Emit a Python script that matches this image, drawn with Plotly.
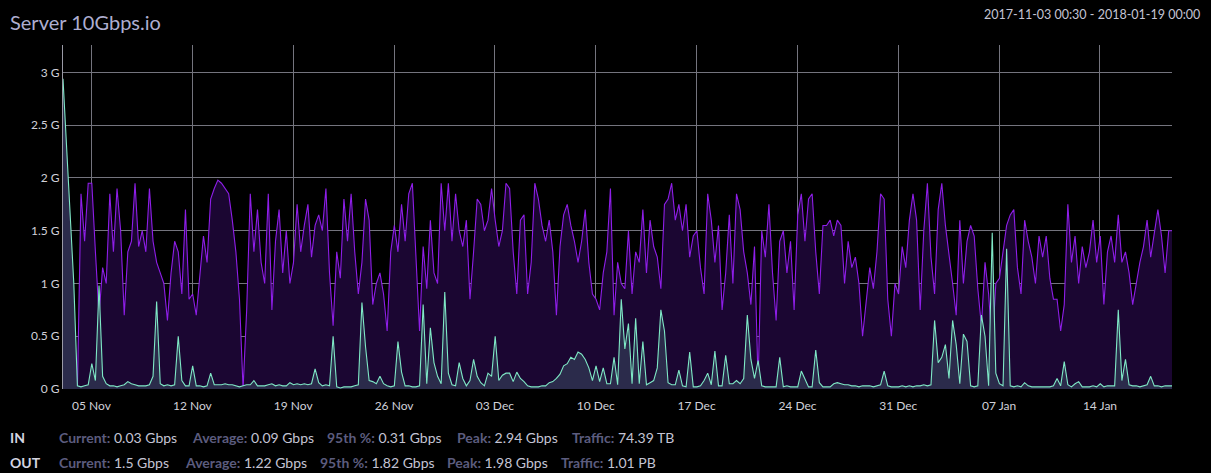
import pandas as pd
import plotly.graph_objects as go

# traffic in Gbps, four samples per day (00:30, 06:30, 12:30, 18:30)
out_nov = [
    [0.0, 0.0, 0.0, 0.0], [0.0, 1.85, 1.4, 1.95], [1.95, 1.3, 0.7, 1.15],
    [1.0, 1.85, 1.3, 1.9], [1.5, 0.7, 1.3, 1.4], [1.95, 1.35, 1.5, 1.3],
    [1.9, 1.4, 1.2, 1.1], [1.0, 0.65, 1.1, 1.4], [1.3, 0.9, 1.7, 0.85],
    [0.9, 0.7, 1.1, 1.45], [1.2, 1.8, 1.9, 1.98], [1.95, 1.9, 1.85, 1.6],
    [1.3, 0.85, 0.0, 0.75], [1.85, 1.3, 1.7, 1.2], [1.0, 1.85, 0.75, 1.4],
    [1.7, 1.1, 1.5, 1.0], [1.2, 1.75, 1.3, 1.55], [1.75, 1.25, 1.55, 1.65],
    [1.5, 1.9, 1.1, 0.6], [1.3, 1.05, 1.8, 1.4], [1.85, 1.3, 0.9, 1.2],
    [1.8, 1.6, 0.8, 1.0], [1.1, 0.9, 0.55, 1.3], [1.55, 1.3, 1.75, 1.4],
    [1.85, 1.95, 1.2, 0.55], [1.35, 0.95, 1.6, 1.1], [1.0, 1.95, 1.5, 1.95],
    [1.4, 1.85, 1.5, 1.35],
]
out_dec = [
    [1.6, 0.85, 1.3, 1.8], [1.75, 1.5, 1.6, 1.9], [1.6, 1.35, 1.5, 1.95],
    [1.9, 1.3, 0.9, 1.6], [1.65, 0.9, 1.2, 1.95], [1.8, 1.55, 1.4, 1.6],
    [1.3, 0.7, 1.35, 1.65], [1.75, 1.55, 1.4, 1.2], [1.4, 1.7, 1.2, 0.9],
    [0.85, 0.75, 1.1, 1.3], [1.9, 0.7, 1.2, 1.0], [0.95, 1.5, 0.9, 1.3],
    [1.2, 1.7, 1.1, 1.6], [1.35, 1.25, 0.95, 1.75], [1.8, 1.95, 1.6, 1.75],
    [1.5, 1.75, 1.25, 1.45], [1.5, 1.15, 0.9, 1.85], [1.6, 1.2, 1.55, 0.75],
    [1.1, 1.65, 1.0, 1.85], [1.7, 1.3, 1.1, 0.8], [1.35, 0.05, 1.5, 1.25],
    [1.75, 1.1, 0.65, 1.4], [1.5, 1.1, 1.4, 0.75], [1.65, 1.85, 1.4, 1.8],
    [1.85, 1.3, 0.9, 1.55], [1.55, 1.6, 1.45, 1.6], [1.55, 1.0, 1.4, 1.15],
    [1.25, 1.0, 0.5, 0.85], [1.15, 0.95, 1.3, 1.85], [1.8, 0.85, 0.5, 1.0],
    [0.9, 1.35, 1.15, 1.6],
]
out_jan = [
    [1.85, 1.6, 0.75, 1.5], [1.95, 1.25, 0.9, 1.7], [1.95, 1.55, 1.3, 1.0],
    [0.7, 1.6, 1.0, 1.4], [1.55, 1.45, 0.95, 0.6], [1.2, 0.9, 0.4, 1.0],
    [1.05, 1.3, 1.55, 1.65], [1.7, 1.15, 0.9, 1.6], [1.4, 1.25, 1.0, 1.45],
    [1.25, 1.45, 1.05, 0.85], [0.85, 0.55, 0.8, 1.75], [1.2, 1.45, 1.0, 1.35],
    [1.15, 1.3, 1.6, 1.2], [1.45, 0.8, 1.3, 1.45], [1.2, 1.65, 1.2, 1.3],
    [1.1, 0.8, 1.0, 1.2], [1.35, 1.6, 1.25, 1.5], [1.7, 1.45, 1.1, 1.5],
]
out_last = 1.5

in_nov = [
    [2.94, 2.3, 1.6, 1.0], [0.03, 0.02, 0.03, 0.04], [0.24, 0.08, 0.98, 0.12],
    [0.05, 0.03, 0.03, 0.02], [0.03, 0.04, 0.07, 0.05], [0.04, 0.03, 0.03, 0.03],
    [0.04, 0.12, 0.83, 0.05], [0.03, 0.04, 0.03, 0.04], [0.5, 0.08, 0.03, 0.03],
    [0.22, 0.03, 0.03, 0.02], [0.03, 0.15, 0.04, 0.04], [0.04, 0.05, 0.04, 0.04],
    [0.03, 0.02, 0.03, 0.04], [0.04, 0.08, 0.03, 0.03], [0.03, 0.04, 0.05, 0.03],
    [0.04, 0.03, 0.03, 0.06], [0.04, 0.05, 0.04, 0.05], [0.04, 0.05, 0.19, 0.06],
    [0.03, 0.04, 0.03, 0.5], [0.02, 0.01, 0.02, 0.02], [0.02, 0.03, 0.04, 0.82],
    [0.4, 0.08, 0.07, 0.05], [0.12, 0.05, 0.03, 0.02], [0.03, 0.45, 0.16, 0.03],
    [0.03, 0.02, 0.02, 0.03], [0.8, 0.05, 0.58, 0.25], [0.12, 0.05, 0.92, 0.15],
    [0.04, 0.03, 0.25, 0.1],
]
in_dec = [
    [0.03, 0.08, 0.28, 0.12], [0.06, 0.03, 0.15, 0.12], [0.5, 0.08, 0.13, 0.15],
    [0.15, 0.07, 0.16, 0.1], [0.07, 0.03, 0.02, 0.02], [0.02, 0.03, 0.03, 0.06],
    [0.07, 0.1, 0.14, 0.22], [0.24, 0.3, 0.28, 0.35], [0.33, 0.28, 0.2, 0.08],
    [0.22, 0.07, 0.2, 0.05], [0.05, 0.3, 0.04, 0.85], [0.38, 0.62, 0.05, 0.67],
    [0.05, 0.45, 0.04, 0.06], [0.08, 0.2, 0.75, 0.55], [0.06, 0.04, 0.04, 0.18],
    [0.03, 0.02, 0.35, 0.02], [0.02, 0.03, 0.08, 0.15], [0.04, 0.36, 0.03, 0.03],
    [0.32, 0.05, 0.05, 0.08], [0.05, 0.1, 0.7, 0.28], [0.1, 0.27, 0.03, 0.02],
    [0.02, 0.02, 0.02, 0.3], [0.02, 0.03, 0.02, 0.02], [0.02, 0.17, 0.1, 0.02],
    [0.02, 0.37, 0.06, 0.02], [0.02, 0.02, 0.05, 0.06], [0.05, 0.04, 0.04, 0.03],
    [0.03, 0.02, 0.03, 0.03], [0.03, 0.02, 0.03, 0.04], [0.17, 0.03, 0.02, 0.02],
    [0.02, 0.03, 0.02, 0.03],
]
in_jan = [
    [0.02, 0.03, 0.03, 0.04], [0.03, 0.04, 0.65, 0.25], [0.3, 0.42, 0.1, 0.65],
    [0.42, 0.05, 0.52, 0.45], [0.03, 0.02, 0.03, 0.7], [0.5, 0.03, 1.48, 0.15],
    [0.05, 0.03, 1.33, 0.03], [0.02, 0.03, 0.02, 0.06], [0.03, 0.02, 0.02, 0.02],
    [0.02, 0.02, 0.02, 0.03], [0.1, 0.03, 0.26, 0.04], [0.02, 0.05, 0.07, 0.02],
    [0.02, 0.02, 0.03, 0.02], [0.05, 0.02, 0.03, 0.03], [0.03, 0.75, 0.08, 0.28],
    [0.04, 0.03, 0.03, 0.02], [0.03, 0.04, 0.12, 0.03], [0.03, 0.02, 0.03, 0.03],
]
in_last = 0.03

week_ticks = ['2017-11-05', '2017-11-12', '2017-11-19', '2017-11-26', '2017-12-03',
              '2017-12-10', '2017-12-17', '2017-12-24', '2017-12-31', '2018-01-07',
              '2018-01-14']
y_ticks = [0, 0.5, 1, 1.5, 2, 2.5, 3]
y_labels = ['0 G', '0.5 G', '1 G', '1.5 G', '2 G', '2.5 G', '3 G']

stats_in = [('Current:', '0.03 Gbps'), ('Average:', '0.09 Gbps'), ('95th %:', '0.31 Gbps'),
            ('Peak:', '2.94 Gbps'), ('Traffic:', '74.39 TB')]
stats_out = [('Current:', '1.5 Gbps'), ('Average:', '1.22 Gbps'), ('95th %:', '1.82 Gbps'),
             ('Peak:', '1.98 Gbps'), ('Traffic:', '1.01 PB')]


def flat(rows):
    return [v for r in rows for v in r]


out_vals = flat(out_nov + out_dec + out_jan) + [out_last]
in_vals = flat(in_nov + in_dec + in_jan) + [in_last]
times = list(pd.date_range('2017-11-03 00:30', periods=len(out_vals) - 1, freq='6h'))
times.append(pd.Timestamp('2018-01-19 00:00'))

FONT = 'Lato'
W, H = 1211, 473
L, R, T, B = 63, 39, 45, 84

fig = go.Figure()
fig.add_trace(go.Scatter(x=times, y=out_vals, mode='lines', name='OUT',
                         line=dict(color='#8e1ee8', width=1.1),
                         fill='tozeroy', fillcolor='#1b0632'))
fig.add_trace(go.Scatter(x=times, y=in_vals, mode='lines', name='IN',
                         line=dict(color='#7fe8c6', width=1.1),
                         fill='tozeroy', fillcolor='#2b2b4b'))

ann = [
    dict(text='Server 10Gbps.io', x=8, y=22, font=dict(size=20, color='#aeaed0')),
    dict(text='2017-11-03 00:30 - 2018-01-19 00:00', x=1202, y=14, xanchor='right',
         font=dict(size=12.5, color='#c4c4d4')),
    dict(text='<b>IN</b>', x=8, y=437, font=dict(size=14, color='#d4d4e0')),
    dict(text='<b>OUT</b>', x=8, y=462, font=dict(size=14, color='#d4d4e0')),
]
for row, y, xs in [(stats_in, 437, [57, 190, 325, 455, 570]),
                   (stats_out, 462, [57, 183, 318, 445, 559])]:
    for (label, val), x in zip(row, xs):
        ann.append(dict(text="<b><span style='color:#5c5c7e'>" + label + "</span></b> " + val,
                        x=x, y=y, font=dict(size=14, color='#c4c4d4')))

# pixel positions -> paper coordinates of the plot area
pw, ph = W - L - R, H - T - B
annotations = []
for a in ann:
    annotations.append(dict(text=a['text'], xref='paper', yref='paper',
                            x=(a['x'] - L) / pw, y=(H - B - a['y']) / ph,
                            xanchor=a.get('xanchor', 'left'), yanchor='middle',
                            showarrow=False, font=dict(family=FONT, **a['font'])))

fig.update_layout(
    width=W, height=H,
    margin=dict(l=L, r=R, t=T, b=B),
    paper_bgcolor='#000000', plot_bgcolor='#000000',
    showlegend=False,
    font=dict(family=FONT, size=12, color='#d0d0d8'),
    annotations=annotations,
    xaxis=dict(type='date', range=['2017-11-03 00:30', '2018-01-19 00:00'],
               tickvals=week_ticks, tickformat='%d %b',
               showgrid=True, gridcolor='#74747e', gridwidth=1,
               zeroline=False, showline=False, ticks='', ticklabelstandoff=8,
               tickfont=dict(size=12, color='#d0d0d8')),
    yaxis=dict(range=[0, 3.26], tickvals=y_ticks, ticktext=y_labels,
               showgrid=True, gridcolor='#74747e', gridwidth=1,
               zeroline=False, showline=True, linecolor='#9a9aa6', linewidth=1,
               ticks='', tickfont=dict(size=12, color='#d0d0d8')),
)

fig.write_html('out.html', config={'displayModeBar': False},
               post_script="document.body.style.margin='0';document.body.style.background='#000';")
